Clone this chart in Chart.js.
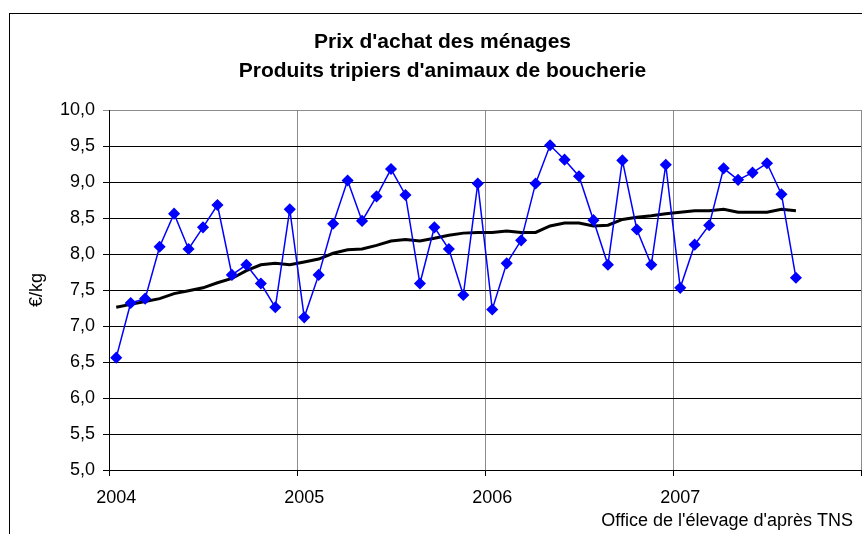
<!DOCTYPE html>
<html lang="fr">
<head>
<meta charset="utf-8">
<title>Prix d'achat des ménages</title>
<script src="https://cdn.jsdelivr.net/npm/chart.js@4.4.1/dist/chart.umd.min.js"></script>
<style>
  html, body { margin: 0; padding: 0; background: #fff; }
  canvas { display: block; }
</style>
</head>
<body>
<canvas id="prixChart" width="862" height="534"></canvas>
<script>
// Data: TNS 4-week periods, 13 per year
const years = ['2004', '2005', '2006', '2007'];
const periodsPerYear = 13;

const prixPeriode = [
    6.56, 7.32, 7.38, 8.10, 8.56, 8.07, 8.37, 8.68, 7.71, 7.85, 7.59, 7.26, 8.62,
    7.12, 7.71, 8.42, 9.02, 8.46, 8.80, 9.18, 8.82, 7.59, 8.37, 8.07, 7.43, 8.98,
    7.23, 7.87, 8.19, 8.98, 9.51, 9.31, 9.08, 8.47, 7.85, 9.30, 8.34, 7.85, 9.24,
    7.53, 8.13, 8.40, 9.19, 9.03, 9.13, 9.26, 8.83, 7.67
];

// moving average (black line)
const tendance = [
    7.26, 7.30, 7.34, 7.38, 7.45, 7.49, 7.53, 7.60, 7.66, 7.77, 7.85, 7.87, 7.85,
    7.89, 7.93, 8.01, 8.06, 8.07, 8.12, 8.18, 8.20, 8.18, 8.22, 8.26, 8.29, 8.30,
    8.30, 8.32, 8.30, 8.30, 8.39, 8.43, 8.43, 8.39, 8.40, 8.48, 8.51, 8.53, 8.56,
    8.58, 8.60, 8.60, 8.62, 8.58, 8.58, 8.58, 8.62, 8.60
];

const yMin = 5.0;
const yMax = 10.0;
const yStep = 0.5;

const titleLines = ["Prix d'achat des ménages", "Produits tripiers d'animaux de boucherie"];
const yAxisTitle = '€/kg';
const sourceNote = "Office de l'élevage d'après TNS";

// one category per period, labelled with its year
const labels = [];
years.forEach(y => {
    for (let p = 0; p < periodsPerYear; p++) labels.push(y);
});

const FONT = '"Liberation Sans", Arial, sans-serif';
Chart.defaults.font.family = FONT;
Chart.defaults.color = '#000';

const isYearLine = ctx => ctx.index === undefined || ctx.index % periodsPerYear === 0;

// white background, outer frame and the source note
const frameAndSource = {
    id: 'frameAndSource',
    beforeDraw(chart) {
        const ctx = chart.ctx;
        ctx.save();
        ctx.fillStyle = '#fff';
        ctx.fillRect(0, 0, chart.width, chart.height);
        ctx.strokeStyle = '#000';
        ctx.lineWidth = 1;
        ctx.strokeRect(9.5, 13.5, chart.width + 40, chart.height + 40);
        ctx.restore();
    },
    afterDraw(chart) {
        const ctx = chart.ctx;
        ctx.save();
        ctx.font = '18px ' + FONT;
        ctx.fillStyle = '#000';
        ctx.textAlign = 'right';
        ctx.textBaseline = 'middle';
        ctx.fillText(sourceNote, 853, 521);
        ctx.restore();
    }
};

new Chart(document.getElementById('prixChart'), {
    type: 'line',
    data: {
        labels: labels,
        datasets: [
            {
                label: 'Prix',
                data: prixPeriode,
                borderColor: '#0000ff',
                backgroundColor: '#0000ff',
                borderWidth: 1.5,
                pointStyle: 'rectRot',
                pointRadius: 5,
                pointBackgroundColor: '#0000ff',
                pointBorderColor: '#0000ff',
                tension: 0,
                order: 0
            },
            {
                label: 'Tendance',
                data: tendance,
                borderColor: '#000',
                borderWidth: 3,
                pointRadius: 0,
                tension: 0,
                order: 1
            }
        ]
    },
    options: {
        responsive: false,
        animation: false,
        layout: {
            autoPadding: false, // markers must not shrink the plot area
            padding: { left: 24, right: 1, top: 0, bottom: 0 }
        },
        plugins: {
            legend: { display: false },
            tooltip: { enabled: false },
            title: {
                display: true,
                text: titleLines,
                color: '#000',
                font: { size: 21, weight: 'bold', lineHeight: 29 / 21 },
                padding: { top: 28, bottom: 24 }
            }
        },
        scales: {
            x: {
                type: 'category',
                offset: true,
                grid: {
                    offset: true,
                    color: ctx => isYearLine(ctx) ? '#8c8c8c' : 'transparent',
                    tickColor: ctx => isYearLine(ctx) ? '#000' : 'transparent',
                    tickLength: 6,
                    lineWidth: 1
                },
                border: { color: '#000', width: 1 },
                ticks: {
                    autoSkip: false,
                    maxRotation: 0,
                    padding: 4,
                    font: { size: 18, lineHeight: 2 },
                    callback: (v, i) => i % periodsPerYear === 0 ? labels[i] : ''
                },
                afterFit: scale => { scale.height = 64; }
            },
            y: {
                min: yMin,
                max: yMax,
                grid: {
                    color: ctx => ctx.tick && ctx.tick.value === yMax ? '#8c8c8c' : '#000',
                    tickLength: 6,
                    lineWidth: 1
                },
                border: { color: '#000', width: 1 },
                ticks: {
                    stepSize: yStep,
                    padding: 8,
                    font: { size: 18 },
                    callback: v => v.toFixed(1).replace('.', ',')
                },
                title: {
                    display: true,
                    text: yAxisTitle,
                    font: { size: 18 },
                    padding: { top: 2, bottom: 0 }
                },
                afterFit: scale => { scale.width = 85; }
            }
        }
    },
    plugins: [frameAndSource]
});
</script>
</body>
</html>
